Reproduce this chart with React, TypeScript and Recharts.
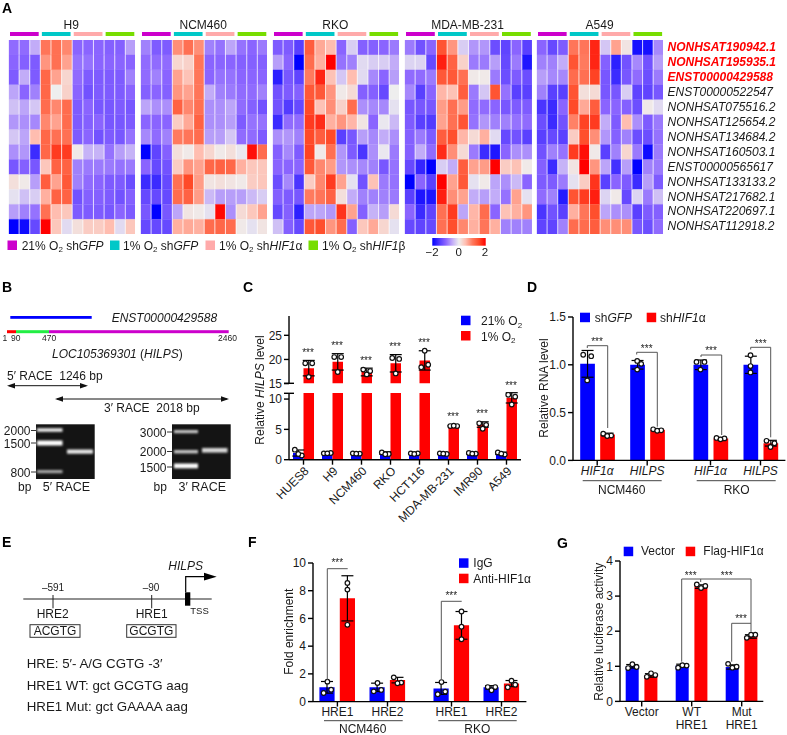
import React from "react";
import { BarChart, Bar, Cell, XAxis, YAxis, ComposedChart, Scatter, ErrorBar } from "recharts";

// ---------- Panel A data: z-scores, 13 transcripts x 12 samples ----------
const transcripts = ["NONHSAT190942.1","NONHSAT195935.1","ENST00000429588","ENST00000522547","NONHSAT075516.2","NONHSAT125654.2","NONHSAT134684.2","NONHSAT160503.1","ENST00000565617","NONHSAT133133.2","NONHSAT217682.1","NONHSAT220697.1","NONHSAT112918.2"];
const highlighted = 3;
const conditions = ["21% O2 shGFP","1% O2 shGFP","1% O2 shHIF1a","1% O2 shHIF1b"];
const conditionColors = ["#CC00CC","#00C8C8","#FFAAAA","#77DD00"];
const h9Rows = [
[-0.95,-0.95,-0.5,1.05,1.1,0.9,-1.0,-1.0,-1.0,-1.05,-1.05,-0.6],
[-1.0,-1.05,-1.1,0.8,1.1,0.7,-0.9,-0.9,-1.0,-1.0,-1.0,-1.0],
[-1.1,-0.5,-1.1,1.2,0.7,0.25,-0.95,-1.1,-1.1,-1.1,-1.1,-0.8],
[-0.55,-1.0,-0.8,1.2,0,0.3,-1.0,-1.2,-1.1,-1.1,-1.1,-1.0],
[-0.35,-0.55,-0.3,1.15,0.9,1.15,-1.1,-1.0,-1.15,-1.15,-1.1,-1.15],
[-0.65,-0.7,-0.75,0.9,0.7,1.15,-1.1,-1.05,-1.0,-1.15,-1.15,-1.1],
[-0.3,-0.55,0.5,1.2,1.1,1.1,-1.1,-1.0,-1.2,-1.1,-1.15,-0.9],
[-0.7,-0.65,-1.6,1.2,1.6,1.6,0.05,-0.45,-0.45,-0.9,-0.6,-0.45],
[-1.15,-1.05,-1.15,0.4,1.25,1.25,-0.8,-0.85,-0.85,-0.85,-0.9,-0.85],
[0.15,0.05,-0.6,1.3,0.7,1.35,-0.8,-0.95,-1.0,-1.1,-1.1,-1.25],
[-0.1,-0.35,-0.25,0.6,1.25,1.25,-1.2,-1.05,-1.05,-1.1,-1.2,-1.05],
[-0.6,-0.8,-0.9,1.1,0.5,0.4,-1.1,-1.1,-1.1,-1.15,-1.0,-1.1],
[-2,-1.9,-1.3,2,0.4,-0.15,0.15,0.35,0.35,0.5,-0.15,0.4],
];
const ncm460Rows = [
[-0.8,-1.1,-1.1,0.85,1.1,0.85,-0.8,-0.9,-0.55,-0.9,-1.0,-0.85],
[-0.95,-0.95,-0.95,0.25,0.3,1.05,-1.0,-1.0,-1.0,-1.05,-1.05,-1.05],
[-0.95,-0.8,-1.0,0.7,0.45,1.05,-1.0,-0.9,-0.9,-1.0,-1.0,-1.0],
[-1.05,-1.0,-1.05,0.8,0.7,1.05,-0.5,-0.8,-0.85,-0.95,-0.95,-0.8],
[-0.55,-0.7,-0.7,1.25,0.9,1.1,-0.7,-0.7,-0.55,-0.95,-1.05,-1.2],
[-1.0,-1.0,-1.0,0.35,0.65,1.25,-0.7,-0.7,-0.6,-1.1,-0.9,-0.9],
[-0.75,-0.95,-0.8,1.0,1.05,1.15,-0.6,-0.6,-0.3,-0.95,-0.95,-1.1],
[-2,-1.35,-1.05,0.15,0.05,0.5,0.25,0.05,0.15,-0.05,1.9,1.15],
[-1.0,-1.3,-1.2,0.35,0.8,0.7,1.2,1.25,1.2,0.6,0.4,0.4],
[-1.6,-1.6,-1.3,1.1,1.5,0.75,0.1,0.15,0.1,0.05,0.35,0.4],
[-1.3,-1.3,-1.3,1.15,1.25,0.75,-0.4,-0.6,-0.6,-0.6,-0.4,-0.25],
[-1.15,-2,-1.15,-0.55,0.1,0.05,-0.1,1.95,-0.7,0.2,0.4,0.7],
[-1.3,-1.3,-1.3,0.6,0.65,0.6,1.15,1.2,1.15,0.05,-0.1,0.1],
];
const rkoRows = [
[-1.1,-1.1,-1.4,1.3,0.65,0.5,-1.0,-0.25,-1.05,-1.05,-1.0,-0.85],
[-0.6,-1.0,-2,1.15,0.6,2,-0.9,-0.8,-0.15,-0.25,-0.25,-0.5],
[-1.7,-1.15,-1.35,1.0,1.75,0.45,-0.3,0.5,-0.15,-0.75,-1.0,-0.6],
[-1.2,-1.1,-1.05,1.35,1.35,0.8,0.05,0.2,-1.05,-1.05,-1.3,0],
[-1.2,-1.45,-1.3,1.5,0.45,0.85,0.3,1.15,-0.7,-0.75,-0.75,-0.1],
[-1.6,-0.95,-0.95,1.6,1.7,0.6,0.8,0.55,0.1,-1.0,-0.05,-0.4],
[-0.7,-0.65,-0.8,1.5,1.3,1.5,-1.4,-1.15,-0.6,-0.75,-0.5,-0.7],
[-1.05,-0.75,-1.1,1.55,0.05,1.1,-0.65,-1.1,-1.5,-0.7,-0.05,-0.85],
[-1.0,-1.0,-1.0,1.35,0.9,0.75,-0.65,-0.7,-0.75,-0.8,-1.15,-0.9],
[-1.25,-0.75,-1.5,0.35,0.9,1.6,0.7,-0.1,-1.2,0.45,-0.85,-0.9],
[-1.05,-1.1,-1.15,1.0,1.05,1.25,0.15,-0.5,-0.8,-0.8,-0.8,-0.85],
[-1.3,-1.05,-1.7,-0.55,-0.55,-0.65,1.65,0.7,-1.05,-0.45,-0.6,0.2],
[-0.35,-1.05,-1.3,1.35,1.45,0.8,1.15,-1.05,0.4,0.65,0.25,-0.1],
];
const mdaRows = [
[-0.85,-1.2,-1.0,1.4,0.8,-0.25,-0.65,-0.65,-1.25,-1.35,-1.0,-1.4],
[-0.2,-0.2,-1.3,1.8,1.25,0.3,-0.85,-0.85,-0.6,-1.3,-0.85,-1.8],
[-0.95,-0.95,-0.85,1.35,1.35,1.1,0.05,0.05,-0.85,-1.25,-1.1,-1.25],
[-0.75,-1.4,-1.0,0.55,0.45,1.3,-0.85,-0.3,1.4,-0.9,-1.4,-1.4],
[-1.15,-1.15,-1.15,0.75,1.1,0.75,-0.95,-0.95,-1.0,-1.15,-1.1,-1.1],
[-1.1,-1.4,-1.45,0.7,1.1,1.4,-0.9,-0.65,-0.8,-0.8,-0.9,-0.95],
[-1.05,-0.85,-1.1,1.3,1.45,0.55,0.2,0.6,-0.15,-1.3,-1.2,-1.4],
[-1.05,-0.5,-0.95,1.7,0.85,0.2,-0.85,-1.6,-1.8,-1.0,-0.7,-0.7],
[-1.3,-1.65,-2,-0.25,-0.5,1.3,0.7,0.75,2,0.35,0.45,0.05],
[-2,-1.0,-1.4,2,0.7,1.35,-0.1,0.05,-0.55,-0.7,-0.4,-1.0],
[-1.4,-1.8,-1.8,1.8,0.85,0.7,-0.5,-0.6,-0.5,-0.9,0.7,-0.1],
[-1.0,-1.6,-1.35,1.1,1.6,-0.55,0.55,1.15,-1.0,0.45,0.6,0.8],
[-1.3,-1.35,-1.3,1.1,1.45,0.9,0.6,1.05,0.6,-0.8,-0.8,-0.8],
];
const a549Rows = [
[-1.0,-1.3,-1.1,1.05,1.05,1.75,-0.3,0.7,0.1,-1.85,-1.85,-0.75],
[-0.8,-0.8,-0.5,1.4,1.0,1.75,-1.05,-1.7,-1.2,-0.75,-1.2,-0.6],
[-0.6,-0.75,-0.75,1.15,1.1,1.55,-1.15,-1.6,-1.15,-0.95,-1.25,-0.85],
[-0.8,-1.4,-1.4,1.4,0.15,0.2,-1.15,-1.15,-0.25,-1.35,-1.35,-1.15],
[-1.5,-1.6,-1.0,1.5,0.65,1.3,-1.0,-1.0,-1.05,-1.25,0.05,-0.15],
[-1.25,-1.6,-1.2,0.95,1.55,1.6,-0.5,-1.1,0.5,-0.7,-1.1,-0.85],
[-1.4,-1.3,-1.4,0.35,1.45,0.85,-0.65,-1.05,-0.8,-1.25,-1.25,-0.9],
[-1.2,-0.8,-0.9,1.6,1.9,0.05,-1.4,-0.8,0.25,-0.85,-1.9,-0.85],
[-1.05,-1.6,-0.45,0.1,2,0.8,-0.55,-1.55,-0.6,-2,-0.8,-0.85],
[-1.1,-1.1,-0.85,-0.1,0.35,1.65,-1.4,-1.0,-1.1,-1.6,-0.6,-1.1],
[-0.95,-0.8,-1.75,1.4,1.6,1.8,-0.2,0.05,-1.3,-0.2,-0.85,-0.35],
[-1.5,-1.2,-1.4,0.6,1.05,1.45,-0.55,-0.7,-0.7,-1.4,-1.1,-1.05],
[-1.35,-1.35,-0.8,1.15,1.15,1.3,0.85,0.85,0.85,-1.15,-1.25,-0.95],
];

// ---------- Panel C ----------
const cLabels = ["HUES8","H9","NCM460","RKO","HCT116","MDA-MB-231","IMR90","A549"];
const cPos = [0.5,1.5,2.5,3.5,4.5,5.5,6.5,7.5];
const cBlue = [1.1,1.1,1.0,1.1,1.0,1.0,1.0,1.05];
const cRed = [18.2,19.5,17.4,19.2,19.8,5.6,5.8,10.2];
const cBlueErr = [0.5,0.05,0.03,0.2,0.05,0.05,0.07,0.2];
const cRedErr = [1.6,1.7,0.8,1.8,2.0,0.06,0.45,0.85];
const cBlueDots = [[1.65,0.7,0.95],[1.05,1.1,1.05],[1.05,1.0,1.0],[1.2,0.95,0.9],[1.05,1.05,0.95],[1.05,0.95,1.0],[1.1,1.0,1.0],[1.2,0.85,1.0]];
const cRedDots = [[19.2,19.2,16.4],[20.5,20.5,17.4],[17.9,17.6,16.9],[20.3,20.1,17.1],[18.4,18.9,21.8],[5.55,5.55,5.6],[6.0,5.75,5.1],[10.7,10.4,9.1]];

// ---------- Panel D ----------
const dLabels = ["HIF1\u03B1","HILPS","HIF1\u03B1","HILPS"];
const dPos = [0.484,1.484,2.75,3.75];
const dBlue = [1.01,1.0,1.0,1.0];
const dRed = [0.27,0.32,0.23,0.18];
const dBlueErr = [0.14,0.045,0.05,0.09];
const dRedErr = [0.015,0.01,0.01,0.03];
const dBlueDots = [[1.105,1.09,0.837],[0.95,1.01,1.04],[1.03,1.03,0.95],[0.92,0.987,1.1]];
const dRedDots = [[0.28,0.26,0.255],[0.325,0.315,0.31],[0.235,0.23,0.22],[0.205,0.18,0.14]];

// ---------- Panel F ----------
const fLabels = ["HRE1","HRE2","HRE1","HRE2"];
const fPos = [0.488,1.49,2.77,3.77];
const fBlue = [1.03,1.03,0.95,1.03];
const fRed = [7.45,1.55,5.5,1.3];
const fBlueErr = [0.42,0.3,0.43,0.12];
const fRedErr = [1.63,0.2,1.0,0.22];
const fBlueDots = [[0.62,0.86,1.44],[0.74,0.84,1.34],[0.53,0.72,1.41],[1.05,1.05,0.82]];
const fRedDots = [[8.56,8.08,5.54],[1.75,1.37,1.32],[6.5,5.4,4.5],[1.03,1.22,1.51]];

// ---------- Panel G ----------
const gLabels = [["Vector"],["WT","HRE1"],["Mut","HRE1"]];
const gPos = [0.434,1.434,2.434];
const gBlue = [1.0,1.02,0.98];
const gRed = [0.74,3.27,1.85];
const gBlueErr = [0.05,0.04,0.06];
const gRedErr = [0.05,0.05,0.05];
const gBlueDots = [[0.95,0.98,1.06],[0.96,1.02,1.03],[1.07,0.99,0.96]];
const gRedDots = [[0.7,0.75,0.8],[3.33,3.29,3.23],[1.81,1.9,1.9]];

// ---------- Styles ----------
const FONT = "'Liberation Sans', Arial, sans-serif";
const BLUE = "#0000FF";
const RED = "#FF0000";
const INK = "#1a1a1a";
const heatStops: [number, string][] = [[-2,"#0000FF"],[-1.4,"#5A40FF"],[-1,"#8A64FF"],[-0.5,"#C2ACF8"],[0,"#EEEEEE"],[0.5,"#FFBDB0"],[1,"#FF7A5E"],[1.5,"#FF4A28"],[2,"#FF0000"]];

function hex(c: string) { return [1,3,5].map((i) => parseInt(c.slice(i, i + 2), 16)); }
function heat(v: number) {
  for (let i = 1; i < heatStops.length; i++) {
    if (v <= heatStops[i][0]) {
      const [a, ca] = heatStops[i - 1];
      const [b, cb] = heatStops[i];
      const t = Math.max(0, (v - a) / (b - a));
      const A = hex(ca), B = hex(cb);
      return `rgb(${A.map((x, k) => Math.round(x + (B[k] - x) * t)).join(",")})`;
    }
  }
  return "#FF0000";
}

function T({ x, y, size = 12, anchor = "start", italic, bold, fill = INK, rotate, children }: any) {
  return (
    <text x={x} y={y} fontSize={size} fontFamily={FONT} textAnchor={anchor} fontStyle={italic ? "italic" : "normal"} fontWeight={bold ? 700 : 400} fill={fill}
      transform={rotate ? `rotate(${rotate} ${x} ${y})` : undefined}>{children}</text>
  );
}
function L({ x1, y1, x2, y2, c = "#333", w = 1 }: any) {
  return <line x1={x1} y1={y1} x2={x2} y2={y2} stroke={c} strokeWidth={w} />;
}
function Poly({ points, c = "#555", w = 1 }: any) {
  return <polyline points={points} fill="none" stroke={c} strokeWidth={w} />;
}
function Stars({ x, y }: any) { return <T x={x} y={y} size={10} anchor="middle" fill="#222">***</T>; }

const Dot = (p: any) => <circle cx={p.cx} cy={p.cy} r={2.3} fill="#fff" stroke="#111" strokeWidth={1.2} />;

function swarm(xs: number[], side: number, dots: number[][], pxPerUnit: number, step: number) {
  const out: { x: number; y: number }[] = [];
  dots.forEach((trio, g) => {
    const center = xs[g] + side;
    trio.forEach((y, i) => {
      const crowded = trio.some((o, k) => k !== i && Math.abs(o - y) * pxPerUnit < 5.5);
      const dir = i === 0 ? -1 : i === 1 ? 1 : 0;
      out.push({ x: center + (crowded ? dir * step : 0), y });
    });
  });
  return out;
}

function BarPanel(props: any) {
  const { left, right, top, bottom, xDomain, pos, blue, red, blueErr, redErr, blueDots, redDots, barSize, barGap, side, step, yDomain, yTicks, labels, tick, tickEl, xHide, padB = 30, clip } = props;
  const PADL = 40, YW = 30, PADT = 8, PADR = 6;
  const w = right - left, h = bottom - top;
  const pxPerUnit = h / (yDomain[1] - yDomain[0]);
  const keep = (v: number | null) => v != null && v >= yDomain[0] && v <= yDomain[1];
  const data = pos.map((x: number, i: number) => ({
    x,
    blue: clip === "upper" ? null : blue[i],
    red: clip === "upper" && red[i] < yDomain[0] ? null : red[i],
    blueErr: keep(blue[i]) ? blueErr[i] : null,
    redErr: keep(red[i]) ? redErr[i] : null,
  }));
  const dots = [...swarm(pos, -side, blueDots, pxPerUnit, step), ...swarm(pos, side, redDots, pxPerUnit, step)].filter((d) => keep(d.y));
  const axisStyle = { stroke: "#000", strokeWidth: 1.4 };
  return (
    <div style={{ position: "absolute", left: left - PADL, top: top - PADT }}>
      <ComposedChart width={w + PADL + PADR} height={h + PADT + padB} data={data} barGap={barGap} margin={{ top: PADT, right: PADR, bottom: xHide ? padB : 0, left: PADL - YW }}>
        <XAxis dataKey="x" type="number" domain={xDomain} ticks={pos} interval={0} hide={xHide} height={padB}
          tickSize={5} tickMargin={1} axisLine={axisStyle} tickLine={axisStyle}
          tick={tickEl || { fontSize: 12, fontFamily: FONT, fill: INK, ...tick }}
          angle={props.angle} textAnchor={props.angle ? "end" : "middle"}
          tickFormatter={(_: any, i: number) => (labels ? labels[i] : "")} />
        <XAxis xAxisId="pts" dataKey="x" type="number" domain={xDomain} hide />
        <YAxis type="number" width={YW} domain={yDomain} ticks={yTicks} allowDataOverflow interval={0}
          tickSize={5} tickMargin={2} axisLine={axisStyle} tickLine={axisStyle}
          tick={{ fontSize: 12, fontFamily: FONT, fill: INK }} tickFormatter={props.yFormat} />
        <Bar dataKey="blue" fill={BLUE} barSize={barSize} isAnimationActive={false}>
          <ErrorBar dataKey="blueErr" width={6} stroke="#000" strokeWidth={1.2} />
        </Bar>
        <Bar dataKey="red" fill={RED} barSize={barSize} isAnimationActive={false}>
          <ErrorBar dataKey="redErr" width={6} stroke="#000" strokeWidth={1.2} />
        </Bar>
        <Scatter xAxisId="pts" data={dots} dataKey="y" shape={Dot} isAnimationActive={false} />
      </ComposedChart>
    </div>
  );
}

const GTick = (p: any) => {
  const lines = gLabels[p.index] || [];
  return (
    <text x={p.x} textAnchor="middle" fontSize={12} fontFamily={FONT} fill={INK}>
      {lines.map((s, i) => <tspan key={s} x={p.x} y={p.y + 9 + i * 12.6}>{s}</tspan>)}
    </text>
  );
};

const O2 = ({ x, y, pre, post, it, tail }: any) => (
  <text x={x} y={y} fontSize={12} fontFamily={FONT} fill={INK}>
    {pre}<tspan dy={2.5} fontSize={8}>2</tspan><tspan dy={-2.5}>{post}</tspan><tspan fontStyle="italic">{it}</tspan>{tail}
  </text>
);

function HeatWrap(p: { rows: number[][]; left: number; right: number }) {
  const w = p.right - p.left;
  const data = p.rows[0].map((_, c) => {
    const o: Record<string, number> = { col: c };
    p.rows.forEach((_, r) => { o["r" + r] = 1; });
    return o;
  });
  const track = conditions.map((n) => ({ n, v: 1 }));
  return (
    <>
      <div style={{ position: "absolute", left: p.left, top: 32 }}>
        <BarChart width={w} height={4} data={track} margin={{ top: 0, right: 0, bottom: 0, left: 0 }} barCategoryGap={0}>
          <XAxis dataKey="n" hide />
          <YAxis hide domain={[0, 1]} />
          <Bar dataKey="v" isAnimationActive={false} barSize={w / 4}>
            {track.map((t, i) => <Cell key={t.n} fill={conditionColors[i]} />)}
          </Bar>
        </BarChart>
      </div>
      <div style={{ position: "absolute", left: p.left, top: 39.7 }}>
        <BarChart width={w} height={194.3} data={data} margin={{ top: 0, right: 0, bottom: 0, left: 0 }} barCategoryGap={0}>
          <XAxis dataKey="col" hide />
          <YAxis hide reversed domain={[0, p.rows.length]} />
          {p.rows.map((row, r) => (
            <Bar key={r} dataKey={"r" + r} stackId="s" isAnimationActive={false} barSize={w / 12}>
              {row.map((v, c) => <Cell key={c} fill={heat(v)} stroke={heat(v)} strokeWidth={0.3} />)}
            </Bar>
          ))}
        </BarChart>
      </div>
    </>
  );
}

export default function App() {
  const greek = "\u03B1";
  const beta = "\u03B2";
  const prime = "\u2032";
  const minus = "\u2212";
  const nb = "\u00A0";
  return (
    <div style={{ position: "absolute", left: 0, top: 0, width: 787, height: 735, background: "#fff", overflow: "hidden", fontFamily: FONT }}>
      <HeatWrap left={7.5} right={135} rows={h9Rows} />
      <HeatWrap left={139.5} right={267} rows={ncm460Rows} />
      <HeatWrap left={271.7} right={399} rows={rkoRows} />
      <HeatWrap left={403.5} right={531.5} rows={mdaRows} />
      <HeatWrap left={536} right={663.3} rows={a549Rows} />

      <BarPanel left={288.5} right={520.5} top={315.7} bottom={383.3} xDomain={[0, 8]} pos={cPos} blue={cBlue} red={cRed} blueErr={cBlueErr} redErr={cRedErr} blueDots={cBlueDots} redDots={cRedDots} barSize={10.5} barGap={0} side={0.18} step={0.12} yDomain={[15, 29]} yTicks={[15, 20, 25]} xHide padB={8} clip="upper" />
      <BarPanel left={288.5} right={520.5} top={393.3} bottom={460} xDomain={[0, 8]} pos={cPos} blue={cBlue} red={cRed} blueErr={cBlueErr} redErr={cRedErr} blueDots={cBlueDots} redDots={cRedDots} barSize={10.5} barGap={0} side={0.18} step={0.12} yDomain={[0, 11]} yTicks={[0, 5, 10]} labels={cLabels} angle={-45} padB={70} />
      <BarPanel left={573.3} right={785.7} top={317.3} bottom={460.7} xDomain={[0, 4.248]} pos={dPos} blue={dBlue} red={dRed} blueErr={dBlueErr} redErr={dRedErr} blueDots={dBlueDots} redDots={dRedDots} barSize={14.7} barGap={5.3} side={0.2} step={0.08} yDomain={[0, 1.5]} yTicks={[0, 0.5, 1, 1.5]} yFormat={(v: number) => v.toFixed(1)} labels={dLabels} tick={{ fontStyle: "italic" }} />
      <BarPanel left={313.3} right={526.7} top={562.7} bottom={701.3} xDomain={[0, 4.268]} pos={fPos} blue={fBlue} red={fRed} blueErr={fBlueErr} redErr={fRedErr} blueDots={fBlueDots} redDots={fRedDots} barSize={15.2} barGap={5.2} side={0.2} step={0.075} yDomain={[0, 10]} yTicks={[0, 2, 4, 6, 8, 10]} labels={fLabels} />
      <BarPanel left={620} right={763.3} top={561.3} bottom={701.7} xDomain={[0, 2.866]} pos={gPos} blue={gBlue} red={gRed} blueErr={gBlueErr} redErr={gRedErr} blueDots={gBlueDots} redDots={gRedDots} barSize={13} barGap={5.7} side={0.187} step={0.085} yDomain={[0, 4]} yTicks={[0, 1, 2, 3, 4]} tickEl={GTick} padB={33} labels={gLabels.map((l) => l.join(" "))} />

      <svg width={787} height={735} style={{ position: "absolute", left: 0, top: 0, pointerEvents: "none", willChange: "transform" }}>
        <defs>
          <linearGradient id="scale" x1="0" x2="1" y1="0" y2="0">
            {heatStops.map(([v, c]) => <stop key={v} offset={(v + 2) / 4} stopColor={c} />)}
          </linearGradient>
          <filter id="soft" x="-20%" y="-150%" width="140%" height="400%"><feGaussianBlur stdDeviation="0.8" /></filter>
        </defs>

        <T x={2} y={13} size={14} bold fill="#000">A</T>
        <T x={2} y={292} size={14} bold fill="#000">B</T>
        <T x={243} y={292} size={14} bold fill="#000">C</T>
        <T x={527} y={292} size={14} bold fill="#000">D</T>
        <T x={2} y={547} size={14} bold fill="#000">E</T>
        <T x={248} y={547} size={14} bold fill="#000">F</T>
        <T x={557} y={548} size={14} bold fill="#000">G</T>

        {[["H9", 71.2], ["NCM460", 203.2], ["RKO", 335.3], ["MDA-MB-231", 467.5], ["A549", 599.6]].map(([s, x]) => (
          <T key={s as string} x={x} y={29} size={12} anchor="middle">{s}</T>
        ))}
        {transcripts.map((s, i) => (
          <T key={s} x={667.5} y={51.2 + i * 14.93} size={12} italic bold={i < highlighted} fill={i < highlighted ? "#FF0000" : INK}>{s}</T>
        ))}
        {[[7.5, 0], [110, 1], [205.5, 2], [308.5, 3]].map(([x, i]) => (
          <rect key={i} x={x} y={240.5} width={9.5} height={9.5} fill={conditionColors[i]} />
        ))}
        <O2 x={21.7} y={249.5} pre="21% O" post=" sh" it="GFP" />
        <O2 x={123} y={249.5} pre="1% O" post=" sh" it="GFP" />
        <O2 x={219} y={249.5} pre="1% O" post=" sh" it="HIF1" tail={greek} />
        <O2 x={322} y={249.5} pre="1% O" post=" sh" it="HIF1" tail={beta} />
        <rect x={432.3} y={238} width={53.4} height={7.7} fill="url(#scale)" />
        <T x={432} y={256} size={11.5} anchor="middle">{minus + "2"}</T>
        <T x={458.7} y={256} size={11.5} anchor="middle">0</T>
        <T x={485} y={256} size={11.5} anchor="middle">2</T>

        <rect x={10.3} y={316} width={81.4} height={2.8} fill={BLUE} />
        <T x={111.7} y={321.7} italic>ENST00000429588</T>
        <rect x={7} y={330.2} width={9} height={3} fill={RED} />
        <rect x={16} y={330.2} width={33} height={3} fill="#22EE44" />
        <rect x={49} y={330.2} width={179.7} height={3} fill="#CC00CC" />
        <T x={2.5} y={341} size={8.5}>1</T>
        <T x={11} y={341} size={8.5}>90</T>
        <T x={42} y={341} size={8.5}>470</T>
        <T x={218} y={341} size={8.5}>2460</T>
        <text x={52} y={358} fontSize={12} fontFamily={FONT} fill={INK}><tspan fontStyle="italic">LOC105369301</tspan> (<tspan fontStyle="italic">HILPS</tspan>)</text>
        <T x={7} y={380}>{`5${prime} RACE${nb}${nb}1246 bp`}</T>
        <L x1={9} y1={385.7} x2={86} y2={385.7} c="#111" />
        <path d="M7 385.7 L15 383 L15 388.4Z M88 385.7 L80 383 L80 388.4Z" fill="#111" />
        <L x1={57} y1={399} x2={227} y2={399} c="#111" />
        <path d="M55 399 L63 396.3 L63 401.7Z M229 399 L221 396.3 L221 401.7Z" fill="#111" />
        <T x={104} y={411.7}>{`3${prime} RACE${nb}${nb}2018 bp`}</T>

        <rect x={36} y={424.3} width={58.7} height={54.7} fill="#141414" />
        <rect x={172} y={424.3} width={58.7} height={54.7} fill="#141414" />
        <g filter="url(#soft)" fill="#e8e8e8">
          <rect x={37} y={428.2} width={25.5} height={3.6} />
          <rect x={37} y={440.5} width={25.5} height={5} fill="#fff" />
          <rect x={37} y={470} width={25.5} height={3.2} fill="#a8a8a8" />
          <rect x={67} y={449.5} width={26} height={4.2} />
          <rect x={174} y={430} width={24} height={3.2} fill="#c8c8c8" />
          <rect x={174} y={450} width={24} height={3.4} fill="#c8c8c8" />
          <rect x={174} y={463.5} width={24} height={4.8} fill="#fff" />
          <rect x={202} y={448} width={25.5} height={4.6} fill="#d8d8d8" />
        </g>
        {[["2000", 431, 30.5], ["1500", 443.5, 30.5], ["800", 472.5, 30.5], ["3000", 432.5, 166.5], ["2000", 452, 166.5], ["1500", 467.5, 166.5]].map(([s, y, x]: any) => (
          <g key={`${s}${x}`}>
            <T x={x} y={y + 4.3} anchor="end">{s}</T>
            <L x1={x + 0.5} y1={y - 0.5} x2={x + 5.5} y2={y - 0.5} c="#333" />
          </g>
        ))}
        <T x={18} y={491}>bp</T>
        <T x={42.7} y={491} size={12.5}>{`5${prime} RACE`}</T>
        <T x={153.5} y={491}>bp</T>
        <T x={178.5} y={491} size={12.5}>{`3${prime} RACE`}</T>

        <text transform="translate(264 390) rotate(-90)" textAnchor="middle" fontSize={12} fontFamily={FONT} fill={INK}>Relative <tspan fontStyle="italic">HILPS</tspan> level</text>
        <L x1={284} y1={383.3} x2={294} y2={383.3} c="#000" w={1.4} />
        <L x1={284} y1={393.3} x2={294} y2={393.3} c="#000" w={1.4} />
        {[[308, 356], [337, 349], [366, 364], [395, 350], [424, 346], [453, 420], [482, 417], [511, 389]].map(([x, y]) => <Stars key={x} x={x} y={y} />)}
        <rect x={461} y={315.7} width={9.5} height={9.5} fill={BLUE} />
        <rect x={461} y={331} width={9.5} height={9.5} fill={RED} />
        <O2 x={481} y={325} pre="21% O" post="" it="" />
        <O2 x={481} y={340.5} pre="1% O" post="" it="" />

        <T x={548} y={388} rotate={-90} anchor="middle">Relative RNA level</T>
        <rect x={580} y={312.7} width={10} height={9.5} fill={BLUE} />
        <text x={594.7} y={321.7} fontSize={12} fontFamily={FONT} fill={INK}>sh<tspan fontStyle="italic">GFP</tspan></text>
        <rect x={646.7} y={312.7} width={9.5} height={9.5} fill={RED} />
        <text x={660} y={321.7} fontSize={12} fontFamily={FONT} fill={INK}>sh<tspan fontStyle="italic">HIF1</tspan>{greek}</text>
        <Poly points="587.3,348 587.3,345.7 607.7,345.7 607.7,428" />
        <Poly points="636.7,354.5 636.7,352.3 657.3,352.3 657.3,426.7" />
        <Poly points="701,357 701,355 721.7,355 721.7,435" />
        <Poly points="750.7,349.5 750.7,347.3 770.7,347.3 770.7,437.3" />
        <Stars x={597} y={345} /><Stars x={646.7} y={351.5} /><Stars x={711} y={354} /><Stars x={760.7} y={346.5} />
        <L x1={582.7} y1={480.7} x2={661.7} y2={480.7} c="#444" />
        <L x1={696.7} y1={480.7} x2={775.7} y2={480.7} c="#444" />
        <T x={621.7} y={494} anchor="middle">NCM460</T>
        <T x={736.7} y={494} anchor="middle">RKO</T>

        <L x1={23.3} y1={599} x2={211.7} y2={599} c="#222" w={1.2} />
        <L x1={53} y1={595} x2={53} y2={608.3} c="#222" />
        <L x1={151.7} y1={595} x2={151.7} y2={608.3} c="#222" />
        <rect x={185} y={592.3} width={5.3} height={13.4} fill="#000" />
        <Poly points="185.7,592 185.7,576.7 205,576.7" c="#000" w={1.2} />
        <path d="M204 572.8 L216.7 576.7 L204 580.6Z" fill="#000" />
        <T x={168.3} y={570} italic>HILPS</T>
        <T x={53} y={590.7} size={10} anchor="middle">{"\u2013591"}</T>
        <T x={151} y={590.7} size={10} anchor="middle">{"\u201390"}</T>
        <T x={52.7} y={618.3} anchor="middle">HRE2</T>
        <T x={151.7} y={618.3} anchor="middle">HRE1</T>
        <T x={190.3} y={614.3} size={9.5}>TSS</T>
        <rect x={30} y={624.7} width={50} height={12.6} fill="none" stroke="#333" />
        <rect x={126.7} y={624.7} width={49.3} height={12.6} fill="none" stroke="#333" />
        <T x={55} y={635} anchor="middle">ACGTG</T>
        <T x={151.3} y={635} anchor="middle">GCGTG</T>
        <T x={26.7} y={668.3} size={13.3}>{`HRE: 5${prime}- A/G CGTG -3${prime}`}</T>
        <T x={26.7} y={690} size={13.3}>HRE1 WT: gct GCGTG aag</T>
        <T x={26.7} y={711} size={13.3}>HRE1 Mut: gct GAAAA aag</T>

        <T x={293} y={631.7} rotate={-90} anchor="middle">Fold enrichment</T>
        <Poly points="327.3,680 327.3,568.7 347.7,568.7" />
        <Poly points="441.3,680 441.3,601.3 461.7,601.3" />
        <Stars x={337.3} y={566} /><Stars x={451.3} y={599} />
        <L x1={324} y1={720.7} x2={402.7} y2={720.7} c="#444" />
        <L x1={438.3} y1={720.7} x2={516.7} y2={720.7} c="#444" />
        <T x={362.7} y={733} anchor="middle">NCM460</T>
        <T x={477.3} y={733} anchor="middle">RKO</T>
        <rect x={459} y={558.3} width={9.5} height={9.5} fill={BLUE} />
        <rect x={459} y={573.7} width={9.5} height={9.5} fill={RED} />
        <T x={473.3} y={567.3}>IgG</T>
        <T x={473.3} y={582.5}>{`Anti-HIF1${greek}`}</T>

        <T x={603} y={631.7} rotate={-90} anchor="middle">Relative luciferase activity</T>
        <rect x={623.7} y={546.7} width={9.5} height={9.5} fill={BLUE} />
        <T x={641} y={555.3}>Vector</T>
        <rect x={685.7} y={546.7} width={9.5} height={9.5} fill={RED} />
        <T x={703.3} y={555.3}>{`Flag-HIF1${greek}`}</T>
        <Poly points="681.7,661.7 681.7,579 751,579 751,631.7" />
        <L x1={700.7} y1={579} x2={700.7} y2={582} c="#555" />
        <Poly points="731.7,661.7 731.7,623.3 751,623.3" />
        <Stars x={690.7} y={579} /><Stars x={726.7} y={579} /><Stars x={741} y={622} />
      </svg>
    </div>
  );
}
